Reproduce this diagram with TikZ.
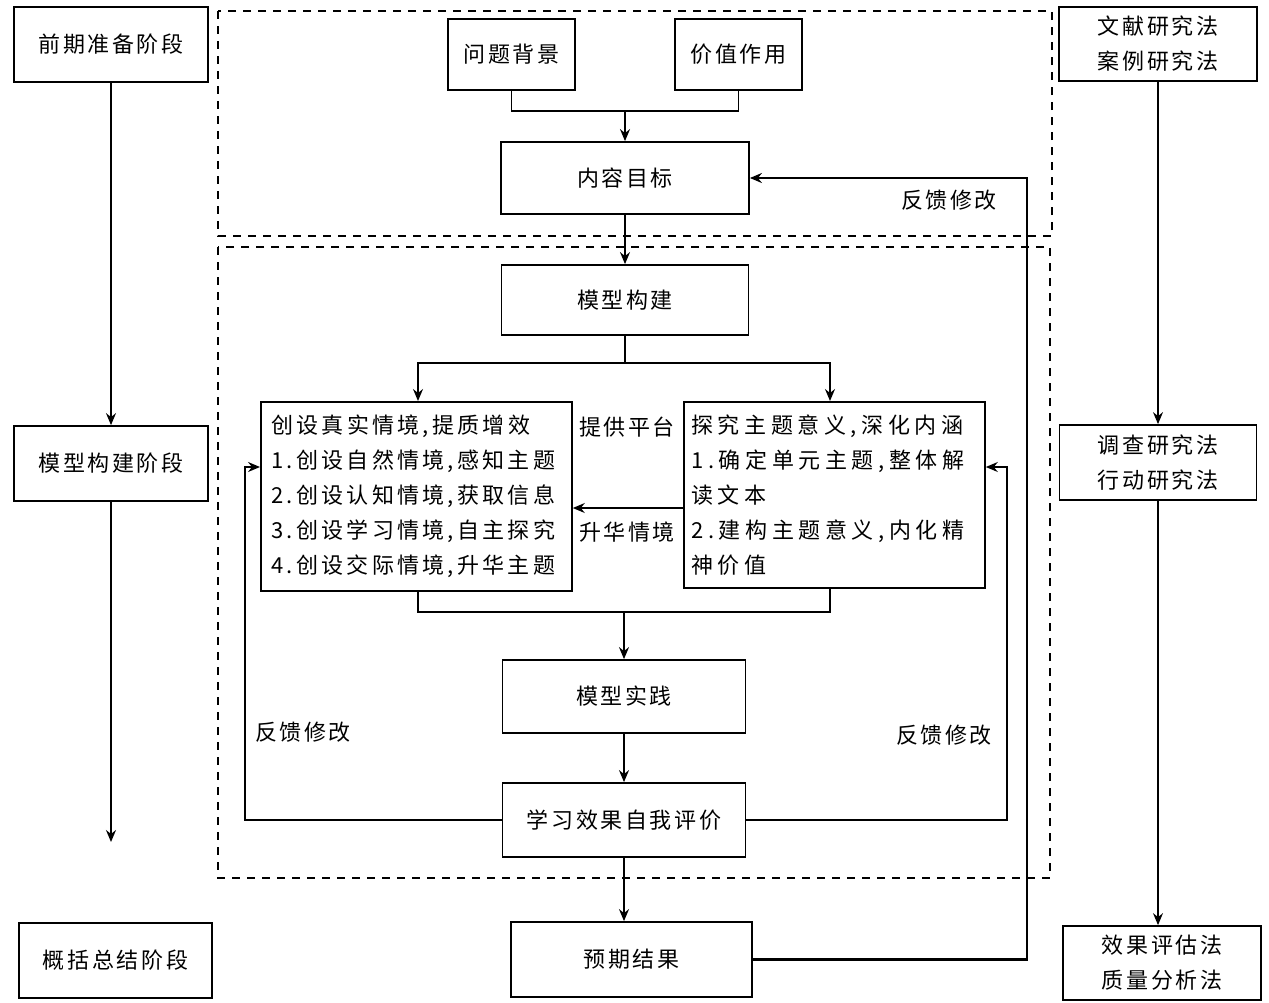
\documentclass[tikz,border=0pt]{standalone}
\usepackage{fontspec}
\setmainfont{Noto Sans CJK SC}[LetterSpace=12]
\usetikzlibrary{arrows.meta}
\begin{document}
\begin{tikzpicture}[x=1pt,y=-1pt,
  font=\fontsize{22}{35}\selectfont,
  box/.style={draw,line width=1.8pt,inner sep=0pt,align=center},
  conn/.style={line width=1.6pt},
  arr/.style={conn,-{Stealth[length=12pt,width=10pt,inset=4pt]}},
  thin/.style={line width=1.2pt},
  tarr/.style={thin,-{Stealth[length=12pt,width=10pt,inset=4pt]}},
  frame/.style={line width=2.2pt,dash pattern=on 8pt off 7pt},
  lbl/.style={inner sep=0pt}]
\useasboundingbox (0,0) rectangle (1269,1002);
% dashed frames
\draw[frame] (218,11) rectangle (1052,236);
\draw[frame] (218,247) rectangle (1050,878);
% left column
\node[box,minimum width=194pt,minimum height=75pt] (prep) at (111,44.5) {前期准备阶段};
\node[box,minimum width=194pt,minimum height=75pt] (stage) at (111,463.5) {模型构建阶段};
\node[box,minimum width=193pt,minimum height=75pt] (summ) at (115.5,960.5) {概括总结阶段};
\coordinate (stageend) at (111,842);
\draw[arr] (prep.south) -- (stage.north);
\draw[arr] (stage.south) -- (stageend);
% right column
\node[box,minimum width=198pt,minimum height=74pt] (m1) at (1158,44) {文献研究法\\案例研究法};
\node[box,minimum width=197pt,minimum height=75pt] (m2) at (1158,462.5) {调查研究法\\行动研究法};
\node[box,minimum width=198pt,minimum height=74pt] (m3) at (1162,963) {效果评估法\\质量分析法};
\draw[tarr] (m1.south) -- (m2.north);
\draw[tarr] (m2.south) -- (m2.south |- m3.north);
% top part
\node[box,minimum width=127pt,minimum height=71pt] (bg) at (511.5,54.5) {问题背景};
\node[box,minimum width=127pt,minimum height=71pt] (val) at (738.5,54.5) {价值作用};
\node[box,minimum width=248pt,minimum height=72pt] (goal) at (625,178) {内容目标};
\coordinate (topjoin) at (625,111);
\draw[conn] (bg.south) |- (topjoin) -| (val.south);
\draw[arr] (topjoin) -- (goal.north);
% middle
\node[box,minimum width=247pt,minimum height=70pt] (build) at (625,300) {模型构建};
\draw[arr] (goal.south) -- (build.north);
\node[box,minimum width=311pt,minimum height=189pt,anchor=north west] (left) at (260,401) {};
\node[lbl,anchor=north west,align=left,font=\fontsize{22}{35}\selectfont\addfontfeature{LetterSpace=15}] (lefttxt) at (271,415) {创设真实情境,提质增效\\1.创设自然情境,感知主题\\2.创设认知情境,获取信息\\3.创设学习情境,自主探究\\4.创设交际情境,升华主题};
\node[box,minimum width=301pt,minimum height=186pt,anchor=north west] (right) at (683,401) {};
\node[lbl,anchor=north west,align=left,font=\fontsize{22}{35}\selectfont\addfontfeature{LetterSpace=21}] (righttxt) at (691,415) {探究主题意义,深化内涵\\1.确定单元主题,整体解\\读文本\\2.建构主题意义,内化精\\神价值};
\coordinate (split) at (625,363);
\draw[conn] (build.south) -- (split);
\draw[arr] (split) -| (418,401);
\draw[arr] (split) -| (830,401);
\draw[arr] (right.west |- 0,508) -- (left.east |- 0,508);
\node[lbl] (ptf) at (627,427) {提供平台};
\node[lbl] (shj) at (627,532) {升华情境};
\node[box,minimum width=243pt,minimum height=73pt] (practice) at (624,696.5) {模型实践};
\coordinate (botjoin) at (624,612);
\draw[conn] (418,590) |- (botjoin);
\draw[conn] (830,587) |- (botjoin);
\draw[arr] (botjoin) -- (practice.north);
\node[box,minimum width=243pt,minimum height=74pt] (eval) at (624,820) {学习效果自我评价};
\draw[arr] (practice.south) -- (eval.north);
\node[box,minimum width=241pt,minimum height=75pt] (result) at (631.5,959.5) {预期结果};
\draw[arr] (eval.south) -- (eval.south |- result.north);
% feedback loops
\draw[arr] (eval.west) -| (245,467) -- (left.west |- 0,467);
\draw[arr] (eval.east) -| (1007,467) -- (right.east |- 0,467);
\draw[arr,line width=2.2pt] (result.east) -| (1027,178) -- (goal.east);
\node[lbl] (fb1) at (949,200) {反馈修改};
\node[lbl] (fb2) at (303,732) {反馈修改};
\node[lbl] (fb3) at (944,735) {反馈修改};
\end{tikzpicture}
\end{document}
